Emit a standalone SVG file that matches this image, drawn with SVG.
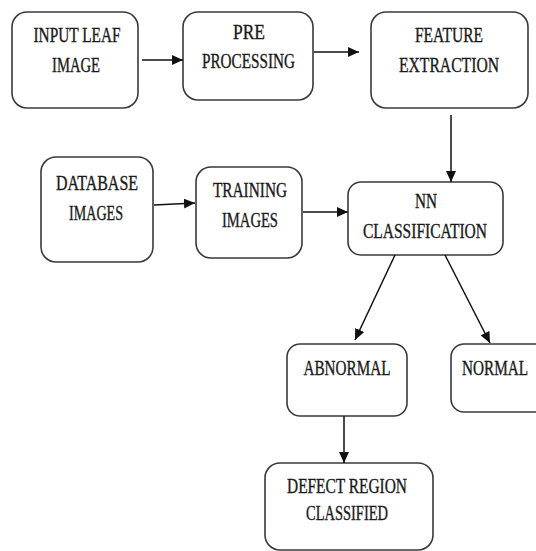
<svg xmlns="http://www.w3.org/2000/svg" width="536" height="551" viewBox="0 0 536 551">
<defs>
<marker id="ah" markerUnits="userSpaceOnUse" markerWidth="11" markerHeight="10" viewBox="0 0 11 10" refX="11" refY="5" orient="auto">
<path d="M0,0 L11,5 L0,10 Z" fill="#111"/>
</marker>
<style>
.box{fill:#fff;stroke:#3a3a3a;stroke-width:1.6}
.t{font-size:20px;fill:#1a1a1a;stroke:#1a1a1a;stroke-width:0.35;text-anchor:middle}
.c{stroke:#111;stroke-width:1.5;fill:none;marker-end:url(#ah)}
</style>
</defs>
<rect width="536" height="551" fill="#fff"/>
<g font-family="Liberation Serif, DejaVu Serif, serif">
<g id="input">
<rect class="box" x="12" y="12" width="126" height="96" rx="15"/>
<text class="t" x="77" y="42" textLength="87" lengthAdjust="spacingAndGlyphs">INPUT LEAF</text>
<text class="t" x="76" y="72" textLength="48" lengthAdjust="spacingAndGlyphs">IMAGE</text>
</g>
<g id="pre">
<rect class="box" x="183" y="12" width="130" height="88" rx="15"/>
<text class="t" x="249" y="39" textLength="32" lengthAdjust="spacingAndGlyphs">PRE</text>
<text class="t" x="248.5" y="68" textLength="93" lengthAdjust="spacingAndGlyphs">PROCESSING</text>
</g>
<g id="feature">
<rect class="box" x="371" y="12" width="157" height="96" rx="15"/>
<text class="t" x="449" y="42" textLength="68" lengthAdjust="spacingAndGlyphs">FEATURE</text>
<text class="t" x="449" y="72" textLength="100" lengthAdjust="spacingAndGlyphs">EXTRACTION</text>
</g>
<g id="database">
<rect class="box" x="41" y="157" width="112" height="105" rx="15"/>
<text class="t" x="97" y="190" textLength="82" lengthAdjust="spacingAndGlyphs">DATABASE</text>
<text class="t" x="96" y="220" textLength="54" lengthAdjust="spacingAndGlyphs">IMAGES</text>
</g>
<g id="training">
<rect class="box" x="196" y="167" width="106" height="91" rx="15"/>
<text class="t" x="250" y="197" textLength="74" lengthAdjust="spacingAndGlyphs">TRAINING</text>
<text class="t" x="250" y="227" textLength="56" lengthAdjust="spacingAndGlyphs">IMAGES</text>
</g>
<g id="nn">
<rect class="box" x="348" y="182" width="155" height="73" rx="13"/>
<text class="t" x="426" y="208" textLength="22" lengthAdjust="spacingAndGlyphs">NN</text>
<text class="t" x="425" y="238" textLength="124" lengthAdjust="spacingAndGlyphs">CLASSIFICATION</text>
</g>
<g id="abnormal">
<rect class="box" x="287" y="344" width="120" height="72" rx="13"/>
<text class="t" x="347" y="375" textLength="87" lengthAdjust="spacingAndGlyphs">ABNORMAL</text>
</g>
<g id="normal">
<rect class="box" x="451" y="344" width="100" height="68" rx="13"/>
<text class="t" x="495" y="375" textLength="66" lengthAdjust="spacingAndGlyphs">NORMAL</text>
</g>
<g id="defect">
<rect class="box" x="265" y="463" width="168" height="87" rx="15"/>
<text class="t" x="347" y="493" textLength="120" lengthAdjust="spacingAndGlyphs">DEFECT REGION</text>
<text class="t" x="347" y="520" textLength="82" lengthAdjust="spacingAndGlyphs">CLASSIFIED</text>
</g>
</g>
<g id="connectors">
<line class="c" x1="142" y1="60" x2="183" y2="60"/>
<line class="c" x1="314" y1="52" x2="359" y2="52"/>
<line class="c" x1="451" y1="115" x2="451" y2="182"/>
<line class="c" x1="154" y1="205" x2="195" y2="203"/>
<line class="c" x1="303" y1="212" x2="348" y2="212"/>
<line class="c" x1="395" y1="255" x2="355" y2="340"/>
<line class="c" x1="445" y1="255" x2="490" y2="343"/>
<line class="c" x1="344" y1="416" x2="344" y2="463"/>
</g>
</svg>
